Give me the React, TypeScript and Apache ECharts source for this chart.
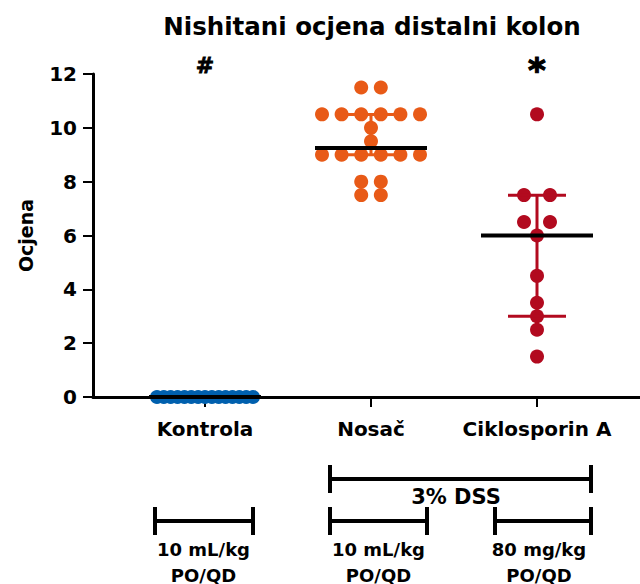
import React, { useEffect, useRef } from "react";
import * as echarts from "echarts";

const categories = ["Kontrola", "Nosač", "Ciklosporin A"];
const kontrola = [0, 0, 0, 0, 0, 0, 0, 0, 0, 0, 0, 0, 0, 0, 0];
const nosac = [11.5, 11.5, 10.5, 10.5, 10.5, 10.5, 10.5, 10.5, 10, 9.5, 9, 9, 9, 9, 9, 9, 8, 8, 7.5, 7.5];
const ciklosporin = [10.5, 7.5, 7.5, 6.5, 6.5, 6, 4.5, 3.5, 3, 2.5, 1.5];
const groups = [kontrola, nosac, ciklosporin];
const colors = ["#0060AE", "#E85A17", "#B20A1F"];
const annotations = ["#", "", "*"];
const yTicks = [0, 2, 4, 6, 8, 10, 12];

const FONT = "DejaVu Sans";
const BAND_PX = 166;
const spreadPx = [6.86, 19.6, 26];

function quantile(sorted: number[], p: number) {
  const n = sorted.length;
  const pos = (n + 1) * p;
  const lo = Math.floor(pos);
  const frac = pos - lo;
  if (lo < 1) return sorted[0];
  if (lo >= n) return sorted[n - 1];
  return sorted[lo - 1] + frac * (sorted[lo] - sorted[lo - 1]);
}

function swarm(values: number[], catPos: number, spacingPx: number) {
  const counts: Record<string, number> = {};
  values.forEach((v) => (counts[v] = (counts[v] || 0) + 1));
  const seen: Record<string, number> = {};
  return values.map((v) => {
    const n = counts[v];
    const i = seen[v] || 0;
    seen[v] = i + 1;
    const off = ((i - (n - 1) / 2) * spacingPx) / BAND_PX;
    return [catPos + off, v];
  });
}

const stats = groups.map((g, k) => {
  const s = [...g].sort((a, b) => a - b);
  return [k + 1, quantile(s, 0.5), quantile(s, 0.25), quantile(s, 0.75)];
});

function bracket(x1: number, x2: number, y: number, capTop: number, capBottom: number) {
  const st = { stroke: "#000", lineWidth: 4 };
  return [
    { type: "line", shape: { x1, y1: y, x2, y2: y }, style: st },
    { type: "line", shape: { x1, y1: capTop, x2: x1, y2: capBottom }, style: st },
    { type: "line", shape: { x1: x2, y1: capTop, x2, y2: capBottom }, style: st },
  ];
}

function txt(x: number, y: number, text: string, size: number) {
  return {
    type: "text",
    x,
    y,
    style: {
      text,
      fill: "#000",
      font: `bold ${size}px "${FONT}"`,
      textAlign: "center",
      textVerticalAlign: "middle",
    },
  };
}

export default function App() {
  const ref = useRef<HTMLDivElement>(null);
  useEffect(() => {
    if (!ref.current) return;
    const chart = echarts.init(ref.current, null, { renderer: "svg" });
    const scatterSeries = groups.map((g, k) => ({
      type: "scatter",
      xAxisIndex: 2,
      yAxisIndex: 1,
      symbolSize: 14,
      clip: false,
      itemStyle: { color: colors[k], opacity: 1 },
      data: swarm(g, k + 1, spreadPx[k]),
      z: 2,
    }));
    const option: any = {
      animation: false,
      textStyle: { fontFamily: FONT },
      title: {
        text: "Nishitani ocjena distalni kolon",
        left: 372,
        top: 14,
        padding: 0,
        textAlign: "center",
        textStyle: { fontFamily: FONT, fontWeight: "bold", fontSize: 24.5, color: "#000" },
      },
      grid: [
        { left: 93, right: 0, top: 74, bottom: 187 },
        { left: 122, right: 20, top: 74, bottom: 187 },
      ],
      xAxis: [
        {
          type: "value",
          gridIndex: 0,
          min: 0,
          max: 1,
          axisLine: { show: true, lineStyle: { color: "#000", width: 3 } },
          axisTick: { show: false },
          axisLabel: { show: false },
          splitLine: { show: false },
        },
        {
          type: "category",
          gridIndex: 1,
          data: categories,
          axisLine: { show: false },
          axisTick: { show: true, alignWithLabel: true, length: 10, lineStyle: { color: "#000", width: 2 } },
          axisLabel: { color: "#000", fontWeight: "bold", fontSize: 20, fontFamily: FONT, margin: 22, interval: 0 },
          splitLine: { show: false },
        },
        { type: "value", gridIndex: 1, min: 0.5, max: 3.5, show: false },
      ],
      yAxis: [
        {
          type: "value",
          gridIndex: 0,
          min: 0,
          max: 12,
          interval: 2,
          name: "Ocjena",
          nameLocation: "middle",
          nameGap: 58,
          nameRotate: 90,
          nameTextStyle: { color: "#000", fontWeight: "bold", fontSize: 19, fontFamily: FONT },
          axisLine: { show: true, lineStyle: { color: "#000", width: 3 } },
          axisTick: { show: true, length: 10, lineStyle: { color: "#000", width: 2 } },
          axisLabel: {
            color: "#000",
            fontWeight: "bold",
            fontSize: 20,
            fontFamily: FONT,
            margin: 16,
            formatter: (v: number) => (yTicks.includes(v) ? String(v) : ""),
          },
          splitLine: { show: false },
        },
        { type: "value", gridIndex: 1, min: 0, max: 12, show: false },
      ],
      series: [
        ...scatterSeries,
        {
          type: "custom",
          xAxisIndex: 2,
          yAxisIndex: 1,
          clip: false,
          z: 3,
          data: stats,
          renderItem: (params: any, api: any) => {
            const x = api.value(0);
            const pMed = api.coord([x, api.value(1)]);
            const pQ1 = api.coord([x, api.value(2)]);
            const pQ3 = api.coord([x, api.value(3)]);
            const c = colors[params.dataIndex];
            const cap = 29;
            const half = 56;
            return {
              type: "group",
              children: [
                { type: "line", shape: { x1: pQ1[0], y1: pQ1[1], x2: pQ3[0], y2: pQ3[1] }, style: { stroke: c, lineWidth: 3 } },
                { type: "line", shape: { x1: pQ1[0] - cap, y1: pQ1[1], x2: pQ1[0] + cap, y2: pQ1[1] }, style: { stroke: c, lineWidth: 3 } },
                { type: "line", shape: { x1: pQ3[0] - cap, y1: pQ3[1], x2: pQ3[0] + cap, y2: pQ3[1] }, style: { stroke: c, lineWidth: 3 } },
                { type: "line", shape: { x1: pMed[0] - half, y1: pMed[1], x2: pMed[0] + half, y2: pMed[1] }, style: { stroke: "#000", lineWidth: 4 } },
              ],
            };
          },
        },
        {
          type: "scatter",
          xAxisIndex: 2,
          yAxisIndex: 1,
          symbolSize: 0,
          clip: false,
          silent: true,
          itemStyle: { color: "#000", opacity: 1 },
          data: annotations
            .map((a, k) => ({
              value: [k + 1, 12.3],
              name: a,
              label:
                a === "*"
                  ? { fontSize: 34, offset: [0, 4], color: "#000", textBorderColor: "#000", textBorderWidth: 1.2 }
                  : { fontSize: 22, offset: [0, 0], color: "#000", textBorderColor: "#000", textBorderWidth: 0.8 },
            }))
            .filter((d) => d.name !== ""),
          label: {
            show: true,
            position: "inside",
            formatter: (p: any) => p.name,
            color: "#000",
            fontWeight: "bold",
            fontSize: 22,
            fontFamily: FONT,
          },
        },
      ],
      graphic: [
        ...bracket(330, 591, 479, 465, 493),
        txt(456, 497, "3% DSS", 21),
        ...bracket(155, 253, 521, 507, 535),
        ...bracket(330, 427, 521, 507, 535),
        ...bracket(495, 591, 521, 507, 535),
        txt(203.5, 549, "10 mL/kg", 18),
        txt(203.5, 575, "PO/QD", 18),
        txt(378.5, 549, "10 mL/kg", 18),
        txt(378.5, 575, "PO/QD", 18),
        txt(539, 549, "80 mg/kg", 18),
        txt(539, 575, "PO/QD", 18),
      ],
    };
    chart.setOption(option);
    return () => chart.dispose();
  }, []);
  return <div ref={ref} style={{ position: "absolute", left: 0, top: 0, width: 640, height: 584 }} />;
}
